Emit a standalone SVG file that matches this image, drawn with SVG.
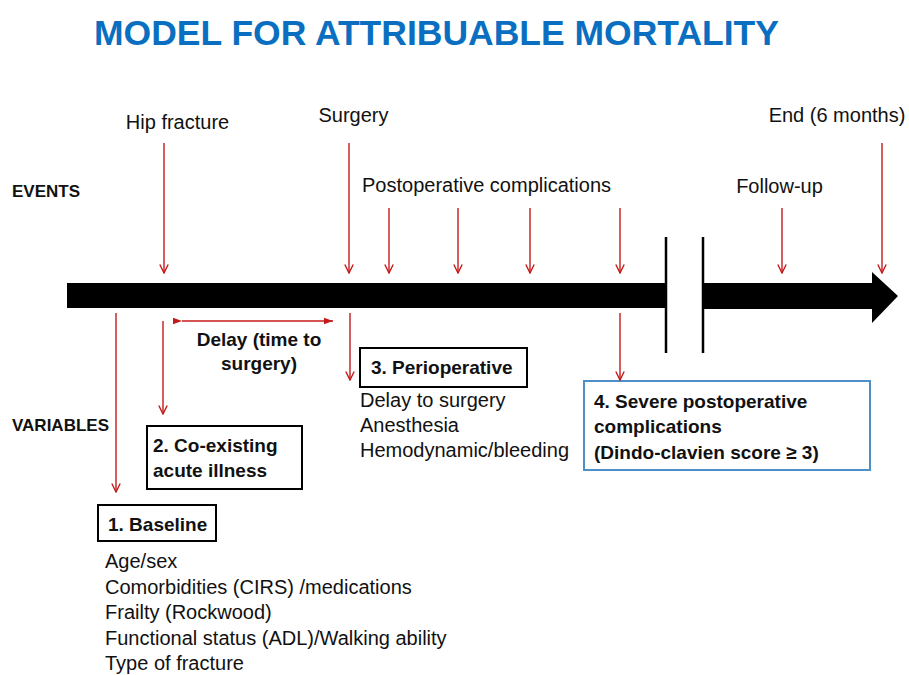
<svg xmlns="http://www.w3.org/2000/svg" width="909" height="675" viewBox="0 0 909 675">
<defs>
<style>
.t{font-family:"Liberation Sans",Arial,sans-serif;font-size:20px;fill:#111}
.b{font-family:"Liberation Sans",Arial,sans-serif;font-size:19px;font-weight:bold;fill:#111}
.lb{font-family:"Liberation Sans",Arial,sans-serif;font-size:17px;font-weight:bold;fill:#111}
.title{font-family:"Liberation Sans",Arial,sans-serif;font-size:35.5px;font-weight:bold;fill:#0a6fc0}
.red{stroke:#c41a1a;stroke-width:1.4;fill:none}
.box{fill:#fff;stroke:#000;stroke-width:2}
.bbox{fill:#fff;stroke:#4f8fc7;stroke-width:2}
</style>
<marker id="open" viewBox="0 0 10 10" refX="9.5" refY="5" markerWidth="10" markerHeight="10" orient="auto" markerUnits="userSpaceOnUse">
<path d="M1,0.8 L9.5,5 L1,9.2" fill="none" stroke="#c41a1a" stroke-width="1.4"/>
</marker>
<marker id="solid" viewBox="0 0 10 10" refX="10" refY="5" markerWidth="9" markerHeight="9" orient="auto" markerUnits="userSpaceOnUse">
<path d="M0,1.5 L10,5 L0,8.5 z" fill="#c41a1a"/>
</marker>
</defs>
<rect width="909" height="675" fill="#fff"/>

<g id="title"><text class="title" x="436.5" y="45" text-anchor="middle">MODEL FOR ATTRIBUABLE MORTALITY</text></g>

<g id="timeline">
<rect x="67" y="283" width="599" height="25" fill="#000"/>
<polygon points="703,283 872,283 872,272 898,296 872,323 872,309 703,309" fill="#000"/>
<line x1="666" y1="237" x2="666" y2="353" stroke="#000" stroke-width="2.5"/>
<line x1="703" y1="237" x2="703" y2="353" stroke="#000" stroke-width="2.5"/>
</g>

<g id="events-label"><text class="lb" x="12" y="197">EVENTS</text></g>
<g id="variables-label"><text class="lb" x="12" y="431">VARIABLES</text></g>

<g id="hip-fracture"><text class="t" x="177.5" y="129" text-anchor="middle">Hip fracture</text></g>
<g id="surgery"><text class="t" x="353.5" y="122" text-anchor="middle">Surgery</text></g>
<g id="postop-complications"><text class="t" x="362" y="192">Postoperative complications</text></g>
<g id="follow-up"><text class="t" x="779.5" y="193" text-anchor="middle">Follow-up</text></g>
<g id="end"><text class="t" x="837" y="122" text-anchor="middle">End (6 months)</text></g>

<g id="delay"><text class="b" x="259" y="346" text-anchor="middle">Delay (time to</text><text class="b" x="259" y="370" text-anchor="middle">surgery)</text></g>

<g id="box-baseline">
<rect class="box" x="98" y="505" width="118" height="36"/>
<text class="b" x="108" y="531">1. Baseline</text>
<text class="t" x="105" y="568">Age/sex</text>
<text class="t" x="105" y="593.5">Comorbidities (CIRS) /medications</text>
<text class="t" x="105" y="619">Frailty (Rockwood)</text>
<text class="t" x="105" y="644.5">Functional status (ADL)/Walking ability</text>
<text class="t" x="105" y="669.5">Type of fracture</text>
</g>

<g id="box-coexisting">
<rect class="box" x="147" y="426" width="155" height="63"/>
<text class="b" x="153" y="452">2. Co-existing</text>
<text class="b" x="153" y="477">acute illness</text>
</g>

<g id="box-perioperative">
<rect class="box" x="360" y="348" width="167" height="39"/>
<text class="b" x="371" y="374">3. Perioperative</text>
<text class="t" x="360" y="407">Delay to surgery</text>
<text class="t" x="360" y="432">Anesthesia</text>
<text class="t" x="360" y="457">Hemodynamic/bleeding</text>
</g>

<g id="box-severe">
<rect class="bbox" x="584" y="381" width="286" height="89"/>
<text class="b" x="594" y="408">4. Severe postoperative</text>
<text class="b" x="594" y="433">complications</text>
<text class="b" x="594" y="459">(Dindo-clavien score ≥ 3)</text>
</g>

<g id="connectors">
<line class="red" x1="164" y1="143" x2="164" y2="273" marker-end="url(#open)"/>
<line class="red" x1="349" y1="143" x2="349" y2="273" marker-end="url(#open)"/>
<line class="red" x1="389" y1="208" x2="389" y2="273" marker-end="url(#open)"/>
<line class="red" x1="458" y1="208" x2="458" y2="273" marker-end="url(#open)"/>
<line class="red" x1="530" y1="208" x2="530" y2="273" marker-end="url(#open)"/>
<line class="red" x1="620" y1="208" x2="620" y2="273" marker-end="url(#open)"/>
<line class="red" x1="782" y1="208" x2="782" y2="273" marker-end="url(#open)"/>
<line class="red" x1="882" y1="143" x2="882" y2="273" marker-end="url(#open)"/>
<line class="red" x1="116" y1="313" x2="116" y2="492" marker-end="url(#open)"/>
<line class="red" x1="163" y1="321" x2="163" y2="414" marker-end="url(#open)"/>
<line class="red" x1="350" y1="313" x2="350" y2="380" marker-end="url(#open)"/>
<line class="red" x1="620" y1="313" x2="620" y2="380" marker-end="url(#open)"/>
<line class="red" x1="182" y1="321" x2="333" y2="321" marker-start="url(#solid)" marker-end="url(#solid)"/>
</g>
</svg>
